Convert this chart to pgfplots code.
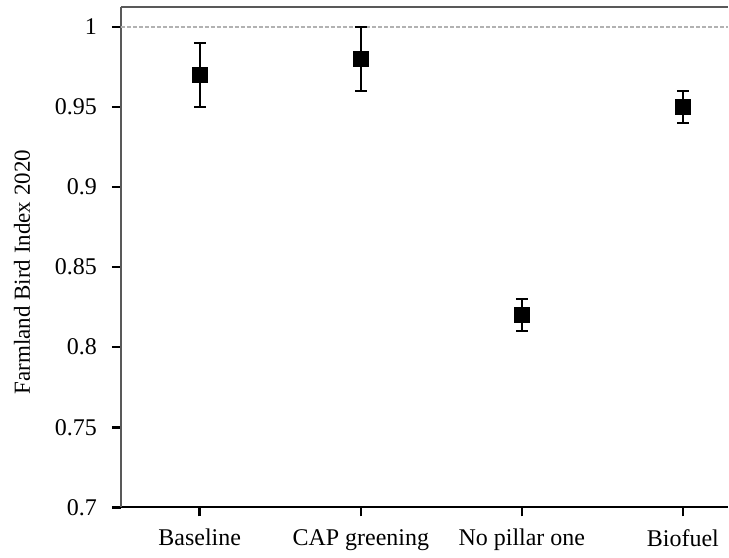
\documentclass[border=0pt]{standalone}
\usepackage{fontspec}
\setmainfont{Liberation Serif}
\usepackage{pgfplots}
\pgfplotsset{compat=1.18}

\begin{document}
\begin{tikzpicture}
\begin{axis}[
    width=304pt, height=250.5pt,
    scale only axis,
    xmin=0.51, xmax=4.28,
    ymin=0.7, ymax=1.0125,
    axis x line*=bottom,
    axis y line*=left,
    x axis line style={black, line width=1pt},
    y axis line style={gray!70!black, line width=1pt},
    xtick={1,2,3,4},
    xticklabels={Baseline, CAP greening, No pillar one, Biofuel},
    ytick={0.7,0.75,0.8,0.85,0.9,0.95,1},
    yticklabels={0.7,0.75,0.8,0.85,0.9,0.95,1},
    xtick align=outside, ytick align=outside,
    xtick style={draw=black, line width=1.3pt},
    ytick style={draw=black, line width=1.3pt},
    major tick length=4.5pt,
    /pgf/number format/assume math mode=true,
    tick label style={font=\fontsize{12}{14}\selectfont},
    xticklabel style={yshift=-3pt},
    yticklabel style={xshift=-4pt},
    ylabel={Farmland Bird Index 2020},
    ylabel style={font=\fontsize{11.5}{13}\selectfont,
        at={(axis description cs:-0.138,0.47)}, anchor=south},
    clip=false,
  ]
  % reference line at 1
  \addplot[gray!60, line width=0.6pt, dash pattern=on 2pt off 1pt]
    coordinates {(0.51,1) (4.28,1)};
  \addplot[black, only marks, mark=square*, mark size=3.75pt,
    error bars/.cd, y dir=both, y explicit,
    error mark=|,
    error mark options={black, mark size=3pt, line width=1pt},
    error bar style={black, line width=1pt}]
    coordinates {
      (1,0.97) +- (0,0.02)
      (2,0.98) +- (0,0.02)
      (3,0.82) +- (0,0.01)
      (4,0.95) +- (0,0.01)
    };
  \draw[gray!70!black, line width=1pt] (rel axis cs:0,1) -- (rel axis cs:1,1);
  \path (rel axis cs:0,1) ++(-60.5pt,3.5pt);
\end{axis}
\end{tikzpicture}
\end{document}
